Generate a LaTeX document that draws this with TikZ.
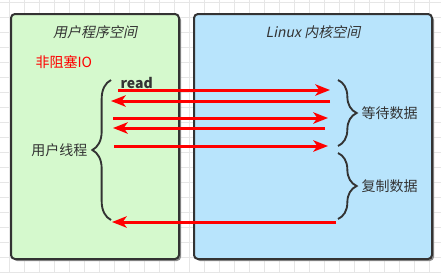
\documentclass[tikz,border=0pt]{standalone}
\usepackage{fontspec}
\setmainfont{Noto Sans CJK SC}[AutoFakeSlant=0.2]
\usepackage{tikz}
\usetikzlibrary{
  arrows.meta,
  positioning,
  calc,
  decorations.pathreplacing
}
\definecolor{ioUser}{HTML}{D5F9CD}
\definecolor{ioKern}{HTML}{B8E4FC}
\definecolor{ioEdge}{HTML}{333333}
\definecolor{ioRed}{HTML}{FF0000}
\definecolor{ioGrid}{HTML}{E6E6E6}
\tikzset{
  space/.style={
    draw=ioEdge, line width=1.5pt, rounded corners=3pt,
    minimum height=183.75pt, inner sep=0pt
  },
  usrspace/.style={space, fill=ioUser, minimum width=126pt},
  kernspace/.style={space, fill=ioKern, minimum width=178.5pt},
  shade/.style={fill=black!45, rounded corners=3pt},
  title/.style={font=\fontsize{10.5}{12}\selectfont\itshape, text=ioEdge},
  label/.style={font=\fontsize{10.5}{12}\selectfont, text=ioEdge, inner sep=1pt},
  curly/.style={draw=ioEdge, line width=1.4pt,
    decorate, decoration={brace, amplitude=14pt}},
  call/.style={-{Stealth[length=11pt, width=8.5pt, inset=3pt]},
    line width=2.25pt, ioRed},
  gridline/.style={ioGrid, line width=0.6pt}
}

\begin{document}
\begin{tikzpicture}[x=0.75pt, y=-0.75pt]
  \useasboundingbox (0,0) rectangle (441,272);
  % background grid
  \foreach \gx in {9,24,...,441}
    \draw[gridline] (\gx,0) -- (\gx,272);
  \foreach \gy in {2,17,...,272}
    \draw[gridline] (0,\gy) -- (441,\gy);

  % the two spaces
  \fill[shade] (13,16) rectangle (181,261);
  \fill[shade] (196,16) rectangle (434,261);
  \node[usrspace] (usr) at (95,136.5) {};
  \node[kernspace] (kern) at (313,136.5) {};
  \node[title] (usrtitle) at (95,32) {用户程序空间};
  \node[title] (kerntitle) at (313,32) {Linux 内核空间};
  \node[label, text=ioRed, anchor=west] (mode) at (34,62) {非阻塞IO};

  % braces
  \draw[curly] (111,220) -- (111,80) coordinate[midway] (thr);
  \draw[curly] (338,80) -- (338,146) coordinate[midway] (wait);
  \draw[curly] (338,153) -- (338,219) coordinate[midway] (copy);
  \node[label, anchor=east] (thread) at ($(thr)+(-22,0)$) {用户线程};
  \node[label, anchor=west] (waitlbl) at ($(wait)+(22,0)$) {等待数据};
  \node[label, anchor=west] (copylbl) at ($(copy)+(22,0)$) {复制数据};
  \node[label, font=\fontsize{10.5}{12}\selectfont\bfseries, anchor=west] (read) at (119,83) {read};

  % calls
  \coordinate (u1) at (118,90);  \coordinate (k1) at (330,90);
  \coordinate (u2) at (111,101); \coordinate (k2) at (330,101);
  \coordinate (u3) at (113,118); \coordinate (k3) at (328,118);
  \coordinate (u4) at (113,128); \coordinate (k4) at (325,128);
  \coordinate (u5) at (114,146); \coordinate (k5) at (328,146);
  \coordinate (u6) at (112,222); \coordinate (k6) at (336,222);
  \draw[call] (u1) -- (k1);
  \draw[call] (k2) -- (u2);
  \draw[call] (u3) -- (k3);
  \draw[call] (k4) -- (u4);
  \draw[call] (u5) -- (k5);
  \draw[call] (k6) -- (u6);
\end{tikzpicture}
\end{document}
